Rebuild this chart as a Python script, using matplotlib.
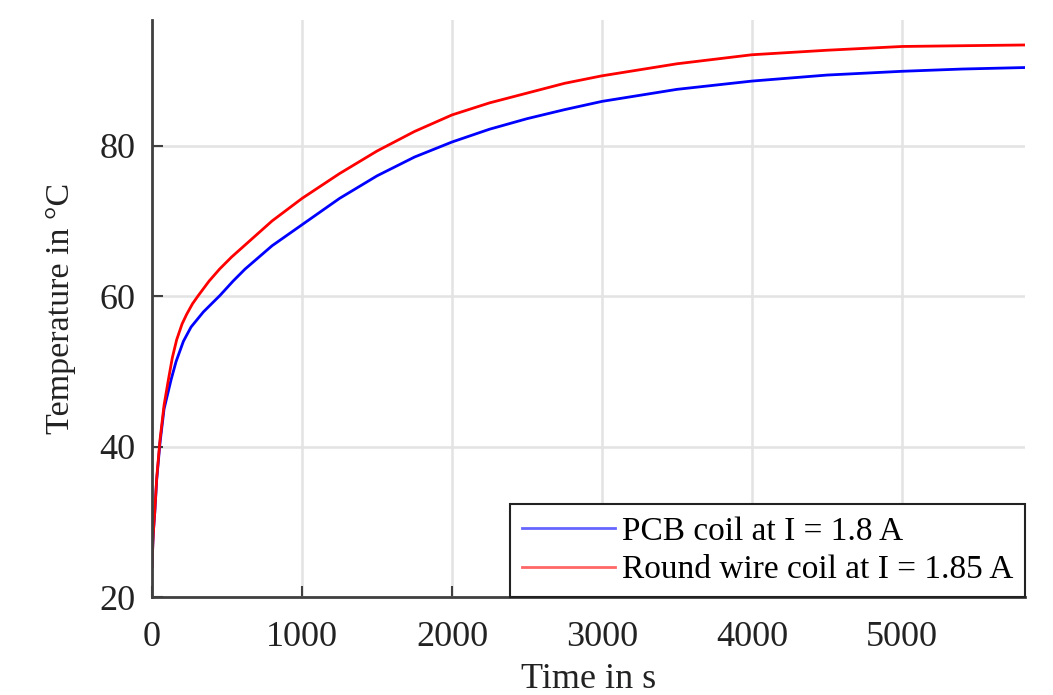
import matplotlib
matplotlib.use("Agg")
import matplotlib.pyplot as plt

# values (time in s, temperature in degC)
t_pcb = [0, 5, 10, 18, 31, 53, 80, 127, 160, 209, 260, 342, 453, 540, 620,
         800, 1000, 1250, 1500, 1750, 2000, 2250, 2500, 2750, 3000, 3500,
         4000, 4500, 5000, 5400, 5820]
T_pcb = [24.0, 27.0, 29.0, 31.2, 35.6, 40.5, 45.0, 48.9, 51.3, 54.0, 55.9,
         57.9, 60.1, 62.0, 63.6, 66.7, 69.5, 73.0, 76.0, 78.5, 80.5, 82.2,
         83.6, 84.8, 85.9, 87.5, 88.6, 89.4, 89.9, 90.2, 90.4]

t_round = [0, 5, 10, 18, 31, 53, 80, 109, 135, 164, 200, 231, 270, 309, 380,
           450, 530, 620, 800, 1000, 1250, 1500, 1750, 2000, 2250, 2500,
           2750, 3000, 3500, 4000, 4500, 5000, 5400, 5820]
T_round = [24.0, 27.0, 29.0, 31.3, 35.8, 40.9, 45.5, 48.9, 51.8, 54.2, 56.3,
           57.6, 59.0, 60.1, 62.0, 63.6, 65.2, 66.8, 70.0, 73.0, 76.3, 79.3,
           81.9, 84.1, 85.7, 87.0, 88.3, 89.3, 90.9, 92.1, 92.7, 93.2, 93.3,
           93.4]

x_ticks = [0, 1000, 2000, 3000, 4000, 5000]
y_ticks = [20, 40, 60, 80]

plt.rcParams["font.family"] = ["Liberation Serif", "DejaVu Serif"]

fig = plt.figure(figsize=(10.53, 6.95), dpi=100)
ax = fig.add_axes([0.1444, 0.141, 0.829, 0.830])

ax.plot(t_pcb, T_pcb, color="#0000ff", linewidth=2,
        label="PCB coil at I = 1.8 A")
ax.plot(t_round, T_round, color="#ff0000", linewidth=2,
        label="Round wire coil at I = 1.85 A")

ax.set_xlim(0, 5820)
ax.set_ylim(20, 96.7)
ax.set_xticks(x_ticks)
ax.set_yticks(y_ticks)
ax.grid(True, color="#e3e3e3", linewidth=1.8)
ax.set_axisbelow(True)

for side in ["top", "right"]:
    ax.spines[side].set_visible(False)
for side in ["left", "bottom"]:
    ax.spines[side].set_color("#404040")
    ax.spines[side].set_linewidth(2)

ax.tick_params(direction="in", length=8, width=1.5, color="#404040",
               labelsize=26, labelcolor="#222222")
ax.tick_params(axis="x", pad=17)
ax.tick_params(axis="y", pad=12)

ax.set_xlabel("Time in s", fontsize=26, color="#222222", labelpad=7)
ax.set_ylabel("Temperature in °C", fontsize=24.5, color="#222222",
              labelpad=17)

leg = ax.legend(loc="lower right", fontsize=24, borderaxespad=0,
                fancybox=False, framealpha=1, edgecolor="#222222",
                handlelength=2.8, handletextpad=0.2, borderpad=0.35,
                labelspacing=0.25)
leg.get_frame().set_linewidth(1.5)
for line in leg.get_lines():
    line.set_alpha(0.6)

fig.savefig("out.png", dpi=100)
